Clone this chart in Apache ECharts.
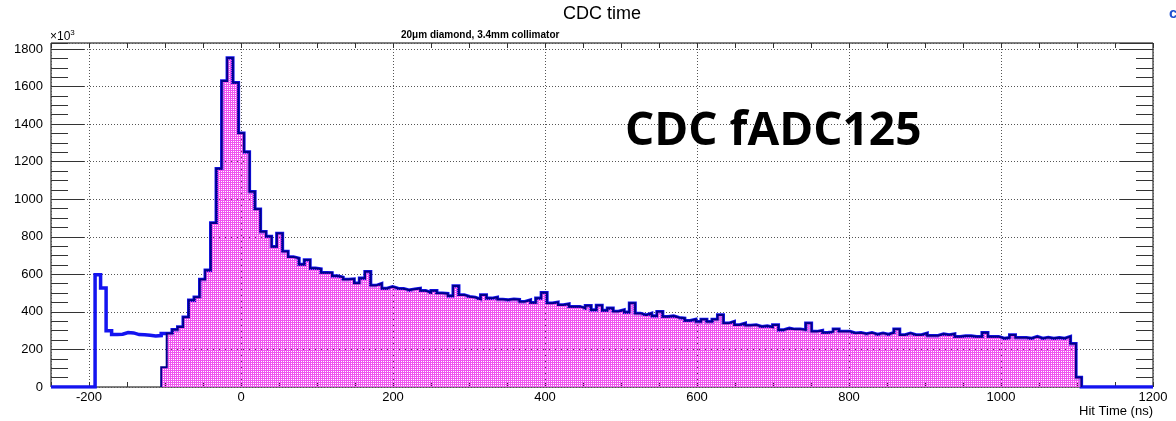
<!DOCTYPE html>
<html><head><meta charset="utf-8">
<script src="https://cdn.jsdelivr.net/npm/echarts@6/dist/echarts.min.js"></script>
<style>html,body{margin:0;padding:0;background:#fff;}#c{width:1176px;height:421px;}</style>
</head><body><div id="c"></div>
<script>
// ---- histogram definition & data (counts in units of 10^3) ----
const xMin = -250, xMax = 1200;
const binLow = -250, binWidth = 7.25;
const yMax = 1832;
const xTickLabels = [-200, 0, 200, 400, 600, 800, 1000, 1200];
const yTickLabels = [0, 200, 400, 600, 800, 1000, 1200, 1400, 1600, 1800];
// all hits (outline), bins 0..20 where it differs from the cut histogram
const preCutCounts = [0, 0, 0, 0, 0, 0, 0, 0, 598, 527, 300, 279, 281, 290, 288, 279, 278, 276, 272, 274, 285];
const cutStartBin = 20;
// cut histogram (filled), bins 20..186
const cutCounts = [
  105, 285, 305, 320, 372, 462, 478, 572, 622, 873,
  1162, 1630, 1752, 1620, 1352, 1252, 1040, 946, 827, 802,
  747, 818, 722, 692, 685, 652, 676, 632, 628, 609,
  608, 591, 584, 573, 575, 552, 579, 614, 540, 550,
  525, 534, 525, 523, 516, 521, 525, 512, 502, 513,
  499, 497, 485, 538, 490, 481, 477, 467, 490, 472,
  477, 466, 463, 467, 465, 454, 463, 449, 472, 502,
  446, 451, 437, 442, 428, 428, 419, 433, 410, 434,
  408, 419, 402, 410, 398, 446, 392, 383, 392, 378,
  401, 374, 378, 369, 366, 353, 360, 348, 360, 348,
  360, 383, 339, 348, 330, 339, 328, 330, 321, 325,
  318, 330, 304, 312, 307, 307, 304, 339, 295, 300,
  289, 295, 307, 295, 295, 286, 289, 282, 289, 280,
  286, 280, 289, 307, 277, 286, 277, 277, 286, 273,
  273, 282, 277, 282, 268, 271, 271, 268, 268, 289,
  268, 268, 259, 262, 277, 262, 262, 259, 268, 259,
  264, 259, 262, 259, 268, 230, 50
];

// ---- build step points ----
const allCounts = preCutCounts.concat(cutCounts.slice(preCutCounts.length - cutStartBin));
const outlinePts = allCounts.map((v, k) => [binLow + k * binWidth, v]);
outlinePts.push([binLow + allCounts.length * binWidth, 0]);
outlinePts.push([xMax, 0]);
const cutPts = [[binLow + cutStartBin * binWidth, 0]];
cutCounts.forEach((v, i) => cutPts.push([binLow + (cutStartBin + i) * binWidth, v]));
cutPts.push([binLow + (cutStartBin + cutCounts.length) * binWidth, 0]);

// fill pattern (ROOT-like hatch with transparent holes)
const pc = document.createElement('canvas');
pc.width = 2; pc.height = 2;
const pctx = pc.getContext('2d');
pctx.fillStyle = '#ef55ef';
pctx.fillRect(0, 0, 2, 2);
pctx.clearRect(1, 1, 1, 1);

const FONT = 'Liberation Sans';
const gridDash = { color: '#555', width: 1, type: [1, 2] };
const tickStyle = { color: '#333', width: 1 };
const noLine = { show: false, onZero: false };
const plain = v => String(v);

const chart = echarts.init(document.getElementById('c'), null, { renderer: 'canvas' });
chart.setOption({
  animation: false,
  backgroundColor: '#fff',
  grid: { left: 51, right: 23, top: 43, bottom: 34, show: true, borderColor: '#000', borderWidth: 1, backgroundColor: 'transparent' },
  xAxis: [
    { type: 'value', min: xMin, max: xMax, splitNumber: 7, position: 'bottom',
      axisLine: noLine, axisTick: { show: false },
      axisLabel: { customValues: xTickLabels, formatter: plain, fontFamily: FONT, fontSize: 13, color: '#000', margin: 4 },
      splitLine: { show: true, lineStyle: gridDash } },
    { type: 'value', min: xMin, max: xMax, interval: 50, position: 'bottom',
      axisLine: noLine, axisLabel: { show: false }, splitLine: { show: false },
      axisTick: { show: true, inside: true, length: 5, lineStyle: tickStyle } },
    { type: 'value', min: xMin, max: xMax, interval: 50, position: 'top',
      axisLine: noLine, axisLabel: { show: false }, splitLine: { show: false },
      axisTick: { show: true, inside: true, length: 5, lineStyle: tickStyle } }
  ],
  yAxis: [
    { type: 'value', min: 0, max: yMax, interval: 200, position: 'left',
      axisLine: noLine,
      axisTick: { show: true, inside: true, length: 33, lineStyle: tickStyle },
      axisLabel: { showMaxLabel: false, formatter: plain, fontFamily: FONT, fontSize: 13, color: '#000', margin: 8 },
      splitLine: { show: true, lineStyle: gridDash } },
    { type: 'value', min: 0, max: yMax, interval: 50, position: 'left',
      axisLine: noLine, axisLabel: { show: false }, splitLine: { show: false },
      axisTick: { show: true, inside: true, length: 17, lineStyle: tickStyle } },
    { type: 'value', min: 0, max: yMax, interval: 200, position: 'right',
      axisLine: noLine, axisLabel: { show: false }, splitLine: { show: false },
      axisTick: { show: true, inside: true, length: 33, lineStyle: tickStyle } },
    { type: 'value', min: 0, max: yMax, interval: 50, position: 'right',
      axisLine: noLine, axisLabel: { show: false }, splitLine: { show: false },
      axisTick: { show: true, inside: true, length: 17, lineStyle: tickStyle } }
  ],
  series: [
    { type: 'line', name: 'all hits', data: outlinePts, step: 'end', symbol: 'none',
      xAxisIndex: 0, yAxisIndex: 0, z: 2,
      lineStyle: { color: '#1414f0', width: 3.5, join: 'miter' } },
    { type: 'line', name: 'cut', data: cutPts, step: 'end', symbol: 'none',
      xAxisIndex: 0, yAxisIndex: 0, z: 3,
      lineStyle: { color: '#00008c', width: 2, join: 'miter' },
      areaStyle: { color: { image: pc, repeat: 'repeat' }, opacity: 1 } }
  ],
  graphic: [
    { type: 'text', x: 602, y: 14, style: { text: 'CDC time', font: '18px "Liberation Sans"', fill: '#000', align: 'center', verticalAlign: 'middle' } },
    { type: 'text', x: 401, y: 35, style: { text: '20μm diamond, 3.4mm collimator', font: 'bold 10px "Liberation Sans"', fill: '#000', align: 'left', verticalAlign: 'middle' } },
    { type: 'text', x: 50, y: 36, style: { text: '{a|×10}{b|3}', rich: { a: { font: '12px "Liberation Sans"', fill: '#000', verticalAlign: 'bottom' }, b: { font: '8px "Liberation Sans"', fill: '#000', verticalAlign: 'top', padding: [0, 0, 6, 0] } }, align: 'left', verticalAlign: 'middle' } },
    { type: 'text', x: 1153, y: 411, style: { text: 'Hit Time (ns)', font: '13px "Liberation Sans"', fill: '#000', align: 'right', verticalAlign: 'middle' } },
    { type: 'text', x: 625, y: 132, z: 10, style: { text: 'CDC fADC125', font: 'bold 46px "Open Sans"', fill: '#000', align: 'left', verticalAlign: 'middle' } },
    { type: 'text', x: 1169, y: 14, style: { text: 'c', font: 'bold 15px "Liberation Sans"', fill: '#1f4fcf', align: 'left', verticalAlign: 'middle' } }
  ]
});
</script></body></html>
